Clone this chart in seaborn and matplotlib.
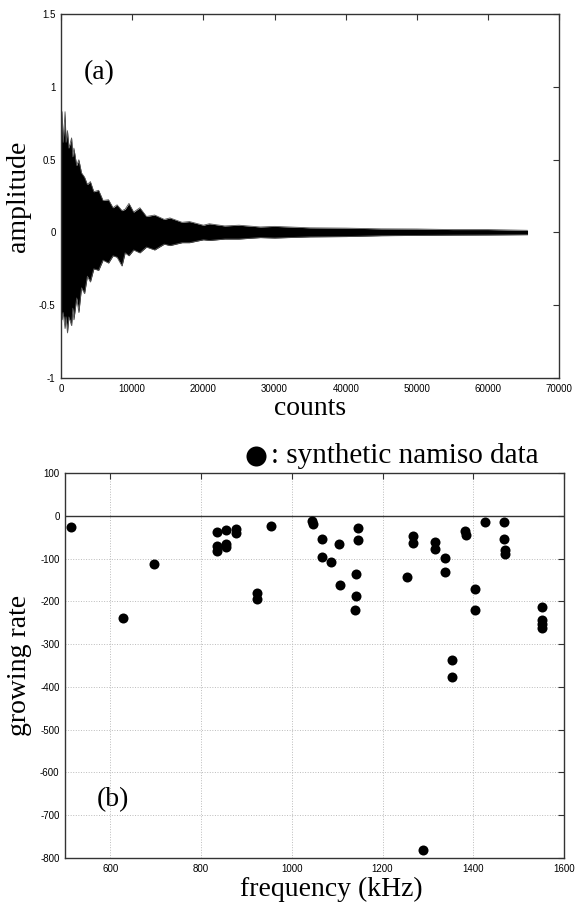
import matplotlib
matplotlib.use("Agg")
import matplotlib.pyplot as plt
import pandas as pd
import seaborn as sns
from matplotlib.ticker import FormatStrFormatter

# panel (a): envelope of the decaying signal
counts = [0, 150, 300, 560, 700, 900, 1100, 1480, 1650, 1800, 2200, 2500,
          2870, 3300, 3700, 4120, 4600, 5280, 5900, 6670, 7300, 7870, 8560,
          9000, 9540, 10200, 11070, 12000, 13150, 14500, 15300, 17000, 18050,
          20000, 20830, 23000, 25000, 28000, 30000, 35000, 40000, 45000,
          50000, 55000, 60000, 65536]
upper = [0.55, 0.83, 0.62, 0.83, 0.62, 0.70, 0.58, 0.65, 0.52, 0.58, 0.46,
         0.50, 0.41, 0.38, 0.33, 0.35, 0.28, 0.29, 0.22, 0.225, 0.17, 0.19,
         0.15, 0.16, 0.20, 0.14, 0.17, 0.11, 0.12, 0.09, 0.10, 0.07, 0.075,
         0.05, 0.06, 0.045, 0.05, 0.038, 0.042, 0.032, 0.03, 0.025, 0.024,
         0.02, 0.02, 0.015]
lower = [-0.50, -0.60, -0.55, -0.66, -0.58, -0.69, -0.58, -0.64, -0.52,
         -0.60, -0.45, -0.55, -0.38, -0.42, -0.30, -0.34, -0.25, -0.26,
         -0.19, -0.21, -0.16, -0.17, -0.23, -0.14, -0.16, -0.12, -0.14,
         -0.10, -0.12, -0.08, -0.09, -0.07, -0.07, -0.05, -0.055, -0.045,
         -0.045, -0.035, -0.038, -0.03, -0.028, -0.022, -0.02, -0.018,
         -0.017, -0.015]

# panel (b): growing rate vs frequency
freq = [513, 627, 697, 836, 836, 836, 854, 855, 855, 877, 877, 923, 923, 953,
        1045, 1047, 1066, 1066, 1087, 1103, 1106, 1146, 1146, 1141, 1141, 1140,
        1254, 1267, 1267, 1315, 1315, 1338, 1338, 1353, 1353, 1382, 1383, 1404,
        1403, 1426, 1469, 1469, 1470, 1470, 1552, 1552, 1552, 1552, 1290]
rate = [-26, -239, -113, -37, -70, -82, -33, -65, -73, -30, -40, -180, -195,
        -24, -12, -19, -54, -97, -107, -65, -161, -28, -56, -137, -188, -219,
        -143, -47, -63, -62, -78, -98, -131, -337, -377, -36, -45, -171, -219,
        -15, -14, -55, -80, -89, -212, -244, -253, -263, -781]

sns.set_theme(style="white")
plt.rcParams["font.family"] = ["Liberation Sans", "DejaVu Sans"]
plt.rcParams["axes.unicode_minus"] = False
plt.rcParams["text.color"] = "black"
plt.rcParams["axes.labelcolor"] = "black"
plt.rcParams["xtick.color"] = "black"
plt.rcParams["ytick.color"] = "black"

SERIF = ["Liberation Serif", "DejaVu Serif"]
SPINE = "#333333"

df_env = pd.DataFrame({"counts": counts, "upper": upper, "lower": lower})
df_pts = pd.DataFrame({"freq": freq, "rate": rate})

fig = plt.figure(figsize=(5.76, 9.05), dpi=100)
ax1 = fig.add_axes([0.106, 0.5823, 0.865, 0.402])
ax2 = fig.add_axes([0.113, 0.0519, 0.866, 0.4254])

# (a) waveform drawn as its filled envelope
ax1.fill_between(df_env["counts"], df_env["lower"], df_env["upper"],
                 color="black", linewidth=0)
sns.lineplot(data=df_env, x="counts", y="upper", ax=ax1, color="#555555",
             linewidth=0.6, estimator=None)
sns.lineplot(data=df_env, x="counts", y="lower", ax=ax1, color="#555555",
             linewidth=0.6, estimator=None)
ax1.set_xlim(0, 70000)
ax1.set_ylim(-1, 1.5)
ax1.set_xticks(range(0, 70001, 10000))
ax1.set_yticks([-1, -0.5, 0, 0.5, 1, 1.5])
ax1.yaxis.set_major_formatter(FormatStrFormatter("%g"))
ax1.set_xlabel("counts", family=SERIF, fontsize=20, labelpad=2)
ax1.set_ylabel("amplitude", family=SERIF, fontsize=20, labelpad=6)
ax1.text(0.045, 0.84, "(a)", transform=ax1.transAxes, family=SERIF,
         fontsize=20, ha="left", va="center")

# (b) scatter of growing rate
ax2.grid(True, linestyle=":", color="#bbbbbb", linewidth=0.7)
ax2.axhline(0, color=SPINE, linewidth=1)
sns.scatterplot(data=df_pts, x="freq", y="rate", ax=ax2, color="black",
                s=52, edgecolor="black", linewidth=0, zorder=3)
ax2.set_xlim(500, 1600)
ax2.set_ylim(-800, 100)
ax2.set_xticks(range(600, 1601, 200))
ax2.set_yticks(range(-800, 101, 100))
ax2.set_xlabel("frequency (kHz)", family=SERIF, fontsize=20, labelpad=2,
               x=0.533)
ax2.set_ylabel("growing rate", family=SERIF, fontsize=20, labelpad=6)
ax2.text(0.064, 0.151, "(b)", transform=ax2.transAxes, family=SERIF,
         fontsize=20, ha="left", va="center")
handle = ax2.collections[-1]
ax2.legend([handle], [": synthetic namiso data"], loc="lower right",
           bbox_to_anchor=(0.95, 1.01), borderaxespad=0, borderpad=0,
           frameon=False, markerscale=2.0, handlelength=0.7,
           handletextpad=0.17, prop={"family": SERIF, "size": 21})

for ax in (ax1, ax2):
    for sp in ax.spines.values():
        sp.set_color(SPINE)
        sp.set_linewidth(1)
    ax.tick_params(direction="in", length=4, width=0.8, color=SPINE,
                   labelsize=7, top=True, right=True, pad=4)
    ax.set_axisbelow(True)

fig.savefig("out.png", dpi=100)
